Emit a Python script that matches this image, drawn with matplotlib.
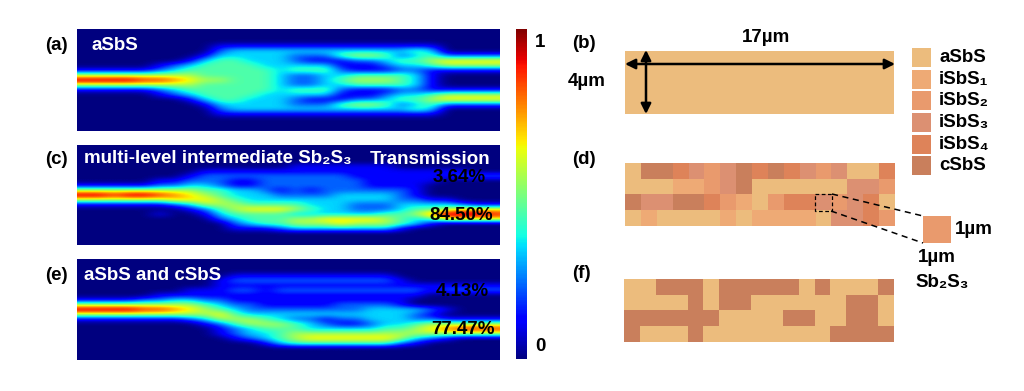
import numpy as np
import matplotlib
matplotlib.use('Agg')
import matplotlib.pyplot as plt
from matplotlib.colors import ListedColormap, BoundaryNorm
from matplotlib.patches import Rectangle

plt.rcParams['font.family'] = ['Liberation Sans', 'DejaVu Sans']
plt.rcParams['font.weight'] = 'bold'

# intensity, digit / 9 = normalised intensity
field_a = [
    '0000000000000000000000000000',
    '0000000000000000000000000000',
    '0000000000000000000000000000',
    '0000000001111111111111110000',
    '0000000002333333333333430000',
    '0000000013333322245542342222',
    '0000000134433321112234456666',
    '0000012344443333311123345555',
    '1111123444444344421112211111',
    '5555555544444322334444310000',
    '9999887655444322345554310000',
    '5555555544444322334444310000',
    '1111123444444344421112211111',
    '0000012344443333311123345555',
    '0000000134433321112234456666',
    '0000000013333322245542342222',
    '0000000002333333333333430000',
    '0000000001111111111111110000',
    '0000000000000000000000000000',
    '0000000000000000000000000000',
    '0000000000000000000000000000',
]
field_c = [
    '0000000000000000000000000000',
    '0000000000000000000000000000',
    '0000000000000000000000000000',
    '0000000000000000000000000000',
    '0000000000000011111110000000',
    '0000000011111111111111111100',
    '0000000122222222221111111222',
    '0000011222112222222111110000',
    '1111122332112222222111100000',
    '5555555544332121222222100000',
    '9989987654333222233332100000',
    '5555556665433333333332211000',
    '1111112355544443332223333211',
    '0000000124566654332223445666',
    '0000010013444433333344579998',
    '0000000002344455666654346666',
    '0000000000234455565554310000',
    '0000000000111233333331000000',
    '0000000000000000000000000000',
    '0000000000000000000000000000',
    '0000000000000000000000000000',
]
field_e = [
    '0000000000000000000000000000',
    '0000000000000000000000000000',
    '0000000000000000000000000000',
    '0000000000111111111110000000',
    '0000000001222222222221000000',
    '0000000001111111111111111111',
    '0000000111221222222222212222',
    '0000011111111111111111100000',
    '1111223322111111111111000000',
    '5555555543221111122221000000',
    '9999887654322222222333321000',
    '5555555556433333333333210000',
    '1111111235554322122333221111',
    '0000000012455543211233455555',
    '0000000001234443333344567888',
    '0000000001233455555555555555',
    '0000000000123456666665321000',
    '0000000000001344444442100000',
    '0000000000000000000000000000',
    '0000000000000000000000000000',
    '0000000000000000000000000000',
]

# phase level of each 1um cell: 0 aSbS .. 5 cSbS
pattern_d = [
    [0, 5, 5, 4, 3, 2, 3, 5, 4, 5, 4, 3, 2, 3, 0, 0, 4],
    [0, 0, 0, 1, 1, 2, 3, 5, 0, 0, 0, 0, 0, 0, 3, 3, 2],
    [5, 3, 3, 5, 5, 4, 2, 1, 0, 2, 4, 4, 3, 2, 3, 4, 0],
    [0, 1, 0, 0, 0, 0, 1, 0, 1, 1, 1, 1, 0, 3, 3, 4, 2],
]
pattern_f = [
    [0, 0, 5, 5, 5, 0, 5, 5, 5, 5, 5, 0, 5, 0, 0, 0, 5],
    [0, 0, 0, 0, 5, 0, 5, 5, 0, 0, 0, 0, 0, 0, 5, 5, 0],
    [5, 5, 5, 5, 5, 5, 0, 0, 0, 0, 5, 5, 0, 0, 5, 5, 0],
    [5, 0, 0, 0, 5, 0, 0, 0, 0, 0, 0, 0, 0, 5, 5, 5, 5],
]
pattern_b = [[0] * 17] * 4

levels = ['aSbS', 'iSbS₁', 'iSbS₂', 'iSbS₃', 'iSbS₄', 'cSbS']
level_colors = ['#ecbc7d', '#eeaa75', '#e99a6d', '#dc9072', '#de8359', '#c97f5c']
cmap_lv = ListedColormap(level_colors)
norm_lv = BoundaryNorm(np.arange(-0.5, 6.5), 6)

W, H = 1024, 391
fig = plt.figure(figsize=(W / 100, H / 100), dpi=100)


def px_axes(x0, y0, x1, y1):
    ax = fig.add_axes([x0 / W, 1 - y1 / H, (x1 - x0) / W, (y1 - y0) / H])
    ax.set_axis_off()
    return ax


def draw_field(box, rows):
    data = np.array([[int(c) for c in r] for r in rows]) / 9
    ax = px_axes(*box)
    return ax.imshow(data, cmap='jet', vmin=0, vmax=1, aspect='auto', interpolation='bicubic')


im = draw_field((77, 29, 500, 131), field_a)
draw_field((77, 145, 500, 245), field_c)
draw_field((77, 259, 500, 360), field_e)

for box, pat in [((625, 51, 894, 114), pattern_b),
                 ((625, 163, 895, 226), pattern_d),
                 ((624, 279, 894, 342), pattern_f)]:
    px_axes(*box).imshow(pat, cmap=cmap_lv, norm=norm_lv, aspect='auto', interpolation='nearest')

cax = fig.add_axes([516 / W, 1 - 359 / H, 11 / W, 330 / H])
cb = fig.colorbar(im, cax=cax)
cb.outline.set_visible(False)
cb.set_ticks([0.045, 0.964], labels=['0', '1'])
cb.ax.tick_params(length=0, labelsize=13.5, pad=6)

# everything else in pixel coordinates
top = fig.add_axes([0, 0, 1, 1], zorder=5)
top.set_xlim(0, W)
top.set_ylim(H, 0)
top.set_axis_off()
top.patch.set_alpha(0)


def label(x, y, s, color='k', ha='left', size=13.5):
    top.text(x, y, s, color=color, ha=ha, va='center', fontsize=size, fontweight='bold')


label(45, 45, '(a)')
label(45, 159, '(c)')
label(45, 275, '(e)')
label(572, 44, '(b)')
label(572, 160, '(d)')
label(572, 273, '(f)')

label(92, 45, 'aSbS', 'w')
label(84, 159, 'multi-level intermediate Sb₂S₃', 'w')
label(370, 159, 'Transmission', 'w')
label(84, 275, 'aSbS and cSbS', 'w')
label(433, 178, '3.64%')
label(429, 216, '84.50%')
label(436, 291, '4.13%')
label(431, 330, '77.47%')

label(766, 37, '17µm', ha='center')
label(587, 81, '4µm', ha='center')

arrow = dict(arrowstyle='<|-|>', color='k', lw=1.8, mutation_scale=15, shrinkA=0, shrinkB=0)
top.annotate('', xy=(625, 64), xytext=(895, 64), arrowprops=arrow)
top.annotate('', xy=(646, 50), xytext=(646, 114), arrowprops=arrow)

legend_y = [48, 70, 91, 113, 135, 156]
for y, name, col in zip(legend_y, levels, level_colors):
    top.add_patch(Rectangle((912, y), 19, 18.5, color=col, lw=0))
    label(939, y + 9.5, name)

# zoom of one cell
top.add_patch(Rectangle((815, 194), 17, 17, fill=False, ec='k', lw=0.9, ls=(0, (3, 2))))
top.add_patch(Rectangle((923, 216), 28, 27, color=level_colors[2], lw=0))
top.plot([832, 923], [194, 216], color='k', lw=1.1, ls=(0, (4, 3)))
top.plot([831, 923], [211, 243], color='k', lw=1.1, ls=(0, (4, 3)))
label(955, 230, '1µm')
label(937, 258, '1µm', ha='center')
label(942, 282, 'Sb₂S₃', ha='center')

fig.savefig('out.png', dpi=100)
